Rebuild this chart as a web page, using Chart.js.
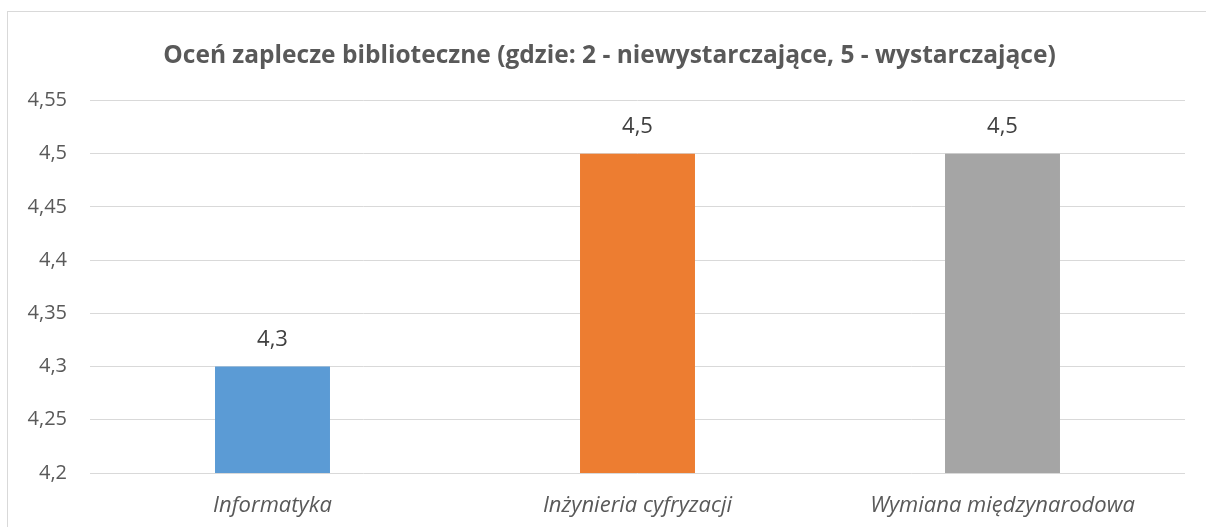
<!DOCTYPE html>
<html>
<head>
<meta charset="utf-8">
<script src="https://cdn.jsdelivr.net/npm/chart.js@4"></script>
<style>
    html, body { margin: 0; padding: 0; background: #fff; overflow: hidden; }
    #frame { position: absolute; left: 7px; top: 11px; width: 1220px; height: 540px; border: 1px solid #d9d9d9; box-sizing: border-box; }
    #wrap { position: absolute; left: 0; top: 0; width: 1206px; height: 527px; }
</style>
</head>
<body>
<div id="frame"></div>
<div id="wrap"><canvas id="chart"></canvas></div>
<script>
// Dane wykresu
const categories = ['Informatyka', 'Inżynieria cyfryzacji', 'Wymiana międzynarodowa'];
const values = [4.3, 4.5, 4.5];
const barColors = ['#5B9BD5', '#ED7D31', '#A5A5A5'];
const yMin = 4.2, yMax = 4.55, yStep = 0.05;
const title = 'Oceń zaplecze biblioteczne (gdzie: 2 - niewystarczające, 5 - wystarczające)';

const FONT = '"Open Sans", sans-serif';
const fmt = v => String(Math.round(v * 100) / 100).replace('.', ',');

// etykiety danych nad słupkami
const valueLabels = {
    id: 'valueLabels',
    afterLayout(chart) {
        // title is centred on the whole frame, not on the padded box
        if (chart.titleBlock) chart.titleBlock.left = 34;
    },
    afterDatasetsDraw(chart) {
        const ctx = chart.ctx;
        const meta = chart.getDatasetMeta(0);
        ctx.save();
        ctx.font = '22px ' + FONT;
        ctx.fillStyle = '#404040';
        ctx.textAlign = 'center';
        ctx.textBaseline = 'middle';
        meta.data.forEach((bar, i) => {
            ctx.fillText(fmt(values[i]), bar.x, bar.y - 27);
        });
        ctx.restore();
    }
};

new Chart(document.getElementById('chart'), {
    type: 'bar',
    data: {
        labels: categories,
        datasets: [{
            data: values,
            backgroundColor: barColors,
            borderWidth: 0,
            barPercentage: 0.315,
            categoryPercentage: 1
        }]
    },
    options: {
        responsive: true, maintainAspectRatio: false, animation: false,
        layout: { padding: { top: 41, left: 0, right: 21, bottom: 0 } },
        plugins: {
            legend: { display: false },
            tooltip: { enabled: false },
            title: {
                display: true, text: title, color: '#595959',
                font: { family: FONT, size: 24.5, weight: 'bold' },
                padding: { top: 0, bottom: 30 }
            }
        },
        scales: {
            x: {
                afterFit: s => { s.height = 54; },
                grid: { display: false },
                border: { display: false },
                ticks: { color: '#595959', padding: 12, font: { family: FONT, size: 22, style: 'italic' } }
            },
            y: {
                min: yMin, max: yMax,
                afterFit: s => { s.width = 90; },
                grid: { color: '#d9d9d9', lineWidth: 1, drawTicks: false },
                border: { display: false },
                ticks: {
                    stepSize: yStep, color: '#595959', padding: 23,
                    font: { family: FONT, size: 20 },
                    callback: v => fmt(v)
                }
            }
        }
    },
    plugins: [valueLabels]
});
</script>
</body>
</html>
